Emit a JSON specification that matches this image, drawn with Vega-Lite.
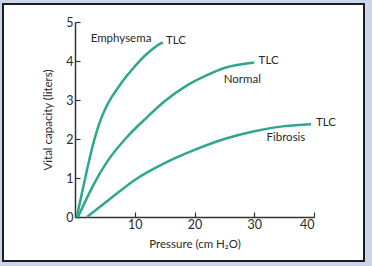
{
  "$schema": "https://vega.github.io/schema/vega-lite/v6.json",
  "width": 361,
  "height": 257,
  "autosize": {"type": "none"},
  "padding": {"left": 3, "top": 4, "right": 8, "bottom": 5},
  "background": "#cbd7e6",
  "config": {
    "view": {"stroke": "#1b1b26", "strokeWidth": 2, "fill": "white"},
    "font": "Lato",
    "axis": {
      "domainColor": "#333333",
      "domainWidth": 1.5,
      "tickColor": "#333333",
      "tickWidth": 1.2,
      "labelColor": "#2a2a2a",
      "titleColor": "#2a2a2a",
      "labelFontSize": 12.5,
      "titleFontSize": 11.5,
      "titleFontWeight": "normal",
      "grid": false
    }
  },
  "datasets": {
    "curves": [
      {"curve": "Emphysema", "p": 0.3, "v": 0},
      {"curve": "Emphysema", "p": 1, "v": 0.5},
      {"curve": "Emphysema", "p": 2, "v": 1.2},
      {"curve": "Emphysema", "p": 3, "v": 1.85},
      {"curve": "Emphysema", "p": 4, "v": 2.37},
      {"curve": "Emphysema", "p": 5, "v": 2.75},
      {"curve": "Emphysema", "p": 6, "v": 3.04},
      {"curve": "Emphysema", "p": 7, "v": 3.27},
      {"curve": "Emphysema", "p": 8, "v": 3.49},
      {"curve": "Emphysema", "p": 9, "v": 3.68},
      {"curve": "Emphysema", "p": 10, "v": 3.86},
      {"curve": "Emphysema", "p": 11, "v": 4.03},
      {"curve": "Emphysema", "p": 12, "v": 4.18},
      {"curve": "Emphysema", "p": 13, "v": 4.31},
      {"curve": "Emphysema", "p": 14, "v": 4.42},
      {"curve": "Emphysema", "p": 14.7, "v": 4.48},
      {"curve": "Normal", "p": 0.5, "v": 0},
      {"curve": "Normal", "p": 3, "v": 0.8},
      {"curve": "Normal", "p": 5.3, "v": 1.4},
      {"curve": "Normal", "p": 8.7, "v": 2.05},
      {"curve": "Normal", "p": 12, "v": 2.55},
      {"curve": "Normal", "p": 15, "v": 2.97},
      {"curve": "Normal", "p": 18.7, "v": 3.37},
      {"curve": "Normal", "p": 22, "v": 3.63},
      {"curve": "Normal", "p": 25, "v": 3.82},
      {"curve": "Normal", "p": 30, "v": 3.96},
      {"curve": "Fibrosis", "p": 2, "v": 0},
      {"curve": "Fibrosis", "p": 6, "v": 0.48},
      {"curve": "Fibrosis", "p": 10, "v": 0.95},
      {"curve": "Fibrosis", "p": 15, "v": 1.38},
      {"curve": "Fibrosis", "p": 20, "v": 1.72},
      {"curve": "Fibrosis", "p": 25, "v": 2.0},
      {"curve": "Fibrosis", "p": 30, "v": 2.2},
      {"curve": "Fibrosis", "p": 35, "v": 2.33},
      {"curve": "Fibrosis", "p": 39.5, "v": 2.38}
    ],
    "labels": [
      {"label": "Emphysema", "p": 7.7, "v": 4.56},
      {"label": "TLC", "p": 16.9, "v": 4.52},
      {"label": "TLC", "p": 32.4, "v": 4.0},
      {"label": "Normal", "p": 28.0, "v": 3.51},
      {"label": "TLC", "p": 42.0, "v": 2.42},
      {"label": "Fibrosis", "p": 35.3, "v": 2.03}
    ]
  },
  "layer": [
    {
      "data": {"name": "curves"},
      "mark": {"type": "line", "interpolate": "monotone", "color": "#2ea78e", "strokeWidth": 2.5},
      "encoding": {
        "x": {
          "field": "p", "type": "quantitative",
          "scale": {"domain": [0, 40], "range": [72, 311], "nice": false, "zero": false},
          "axis": {"title": "Pressure (cm H₂O)", "values": [10, 20, 30, 40], "offset": -44, "tickSize": -5, "labelPadding": 6, "titlePadding": 8}
        },
        "y": {
          "field": "v", "type": "quantitative",
          "scale": {"domain": [0, 5], "range": [213, 18], "nice": false, "zero": false},
          "axis": {"title": "Vital capacity (liters)", "values": [0, 1, 2, 3, 4, 5], "offset": -72, "tickSize": -5, "labelPadding": 7, "titlePadding": 12}
        },
        "detail": {"field": "curve"},
        "order": {"field": "p"}
      }
    },
    {
      "data": {"name": "labels"},
      "mark": {"type": "text", "fontSize": 11.5, "color": "#2a2a2a", "align": "center", "baseline": "middle"},
      "encoding": {
        "x": {"field": "p", "type": "quantitative", "scale": {"domain": [0, 40], "range": [72, 311], "nice": false, "zero": false}},
        "y": {"field": "v", "type": "quantitative", "scale": {"domain": [0, 5], "range": [213, 18], "nice": false, "zero": false}},
        "text": {"field": "label"}
      }
    }
  ]
}
